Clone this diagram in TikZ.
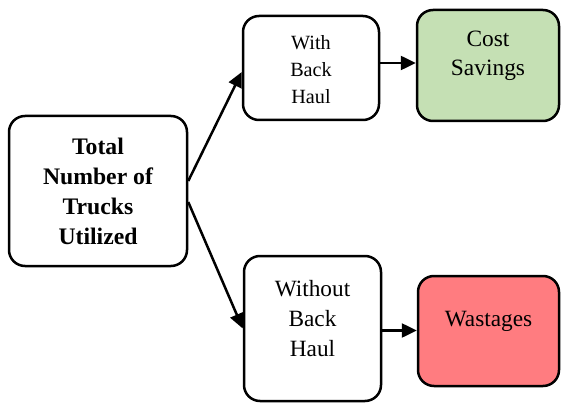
\documentclass[tikz,border=0pt]{standalone}
\usepackage{fontspec}
\setmainfont{Liberation Serif}
\usetikzlibrary{arrows.meta}
\definecolor{savegreen}{HTML}{C5E0B4}
\definecolor{wastered}{HTML}{FF7C80}
\begin{document}
\begin{tikzpicture}[x=1pt,y=-1pt,
  box/.style={draw=black,line width=2.5pt,rounded corners=16pt,fill=white,inner sep=0pt},
  txt/.style={align=center,inner sep=0pt},
  conn/.style={line width=2.5pt,-{Triangle[length=15pt,width=14pt]}}]
\useasboundingbox (0,0) rectangle (561,403);
\node[box,minimum width=178pt,minimum height=150pt] (tot) at (98,191) {};
\node[box,minimum width=136pt,minimum height=104pt] (with) at (311,68) {};
\node[box,fill=savegreen,minimum width=142pt,minimum height=111pt] (cost) at (488,65.5) {};
\node[box,minimum width=137pt,minimum height=145pt] (wo) at (312.5,328.5) {};
\node[box,fill=wastered,minimum width=141pt,minimum height=110pt] (wst) at (488.5,331) {};
\node[txt,font=\fontsize{23.7}{30}\selectfont\bfseries] (tott) at (98,191) {Total\\Number of\\Trucks\\Utilized};
\node[txt,font=\fontsize{20.2}{27}\selectfont] (witht) at (311,70) {With\\Back\\Haul};
\node[txt,font=\fontsize{23.4}{29}\selectfont] (costt) at (488,56) {Cost\\Savings};
\node[txt,font=\fontsize{23.3}{30}\selectfont] (wot) at (312.5,319) {Without\\Back\\Haul};
\node[txt,font=\fontsize{23.3}{29}\selectfont] (wstt) at (488.5,321) {Wastages};
\draw[conn] ([yshift=10pt]tot.east) -- ([yshift=-4pt]with.west);
\draw[conn] ([yshift=-11pt]tot.east) -- (wo.west);
\draw[conn] ([yshift=5pt]with.east) -- ([yshift=5pt]with.east -| cost.west);
\draw[conn] ([yshift=-2pt]wo.east) -- ([yshift=-2pt]wo.east -| wst.west);
\end{tikzpicture}
\end{document}
